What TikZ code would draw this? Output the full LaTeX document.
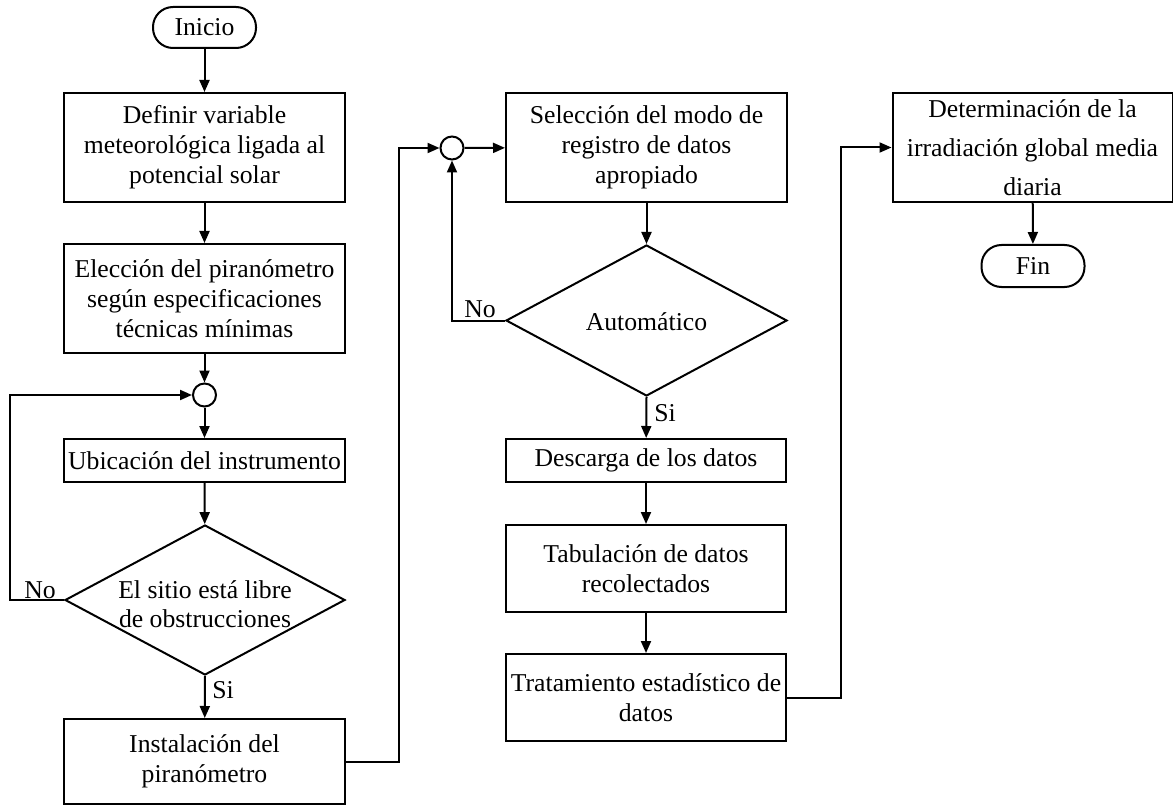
\documentclass[tikz,border=0pt]{standalone}
\usepackage{fontspec}
\setmainfont{Liberation Serif}
\usetikzlibrary{arrows.meta,shapes.geometric}
\begin{document}
\begin{tikzpicture}[x=1pt,y=-1pt,
  every node/.style={font=\fontsize{25.7}{30}\selectfont},
  box/.style={draw,line width=2pt,rectangle,align=center,inner sep=0pt,minimum width=281pt},
  term/.style={draw,line width=2pt,rectangle,rounded corners=20pt,inner sep=0pt,minimum width=103pt,minimum height=41pt},
  junc/.style={draw,line width=2pt,circle,inner sep=0pt,minimum size=23pt},
  dia/.style={draw,line width=2pt,diamond,inner sep=0pt,shape aspect=1},
  lbl/.style={inner sep=0pt,anchor=base},
  arr/.style={line width=2pt,-{Triangle[length=12pt,width=10pt]}}]
\useasboundingbox (0,0) rectangle (1173,805);

\node[term] (ini) at (204.5,27.5) {Inicio};
\node[box,minimum height=109pt] (b1) at (204.5,147.5) {Definir variable\\meteorológica ligada al\\potencial solar};
\node[box,minimum height=109pt] (b2) at (204.5,298.5) {Elección del piranómetro\\según especificaciones\\técnicas mínimas};
\node[junc] (c1) at (204.5,395) {};
\node[box,minimum height=43pt] (b3) at (204.5,460.5) {Ubicación del instrumento};
\node[dia,minimum width=280pt,minimum height=150pt] (d1) at (205,600)
  {\smash{\makebox[0pt]{\raisebox{-13pt}{\begin{tabular}{@{}c@{}}El sitio está libre\\[-1pt]de obstrucciones\end{tabular}}}}};
\node[box,minimum height=85pt] (b4) at (204.5,761.5) {Instalación del\\piranómetro};

\node[junc] (c2) at (452,148) {};
\node[box,minimum height=109pt] (b5) at (646.5,147.5) {Selección del modo de\\registro de datos\\apropiado};
\node[dia,minimum width=281pt,minimum height=151pt] (d2) at (646.5,320.5)
  {\smash{\makebox[0pt]{\raisebox{-10pt}{Automático}}}};
\node[box,minimum width=280pt,minimum height=43pt] (b6) at (646,460.5) {Descarga de los datos};
\node[box,minimum width=280pt,minimum height=87pt] (b7) at (646,568.5) {Tabulación de datos\\recolectados};
\node[box,minimum width=280pt,minimum height=87pt] (b8) at (646,697.5) {Tratamiento estadístico de\\datos};

\node[box,minimum width=280pt,minimum height=109pt,font=\fontsize{25.7}{39}\selectfont] (b9) at (1032.5,147.5)
  {Determinación de la\\irradiación global media\\diaria};
\node[term,minimum height=42pt] (fin) at (1033,266) {Fin};

\node[lbl] (no1) at (40,598) {No};
\node[lbl] (si1) at (223,698) {Si};
\node[lbl] (no2) at (480,317) {No};
\node[lbl] (si2) at (665,421) {Si};

\draw[arr] (ini) -- (b1);
\draw[arr] (b1) -- (b2);
\draw[arr] (b2) -- (c1);
\draw[arr] (c1) -- (b3);
\draw[arr] (b3) -- (d1);
\draw[arr] (d1.west) -- ++(-54,0) |- (c1);
\draw[arr] (d1.south) -- (b4);
\draw[arr] (b4.east) -- ++(53,0) |- (c2);
\draw[arr] (c2) -- (b5);
\draw[arr] (b5) -- (d2);
\draw[arr] (d2.west) -| (c2);
\draw[arr] (d2.south) -- (b6);
\draw[arr] (b6) -- (b7);
\draw[arr] (b7) -- (b8);
\draw[arr] (b8.east) -- ++(54,0) |- (b9.west);
\draw[arr] (b9) -- (fin);
\end{tikzpicture}
\end{document}
